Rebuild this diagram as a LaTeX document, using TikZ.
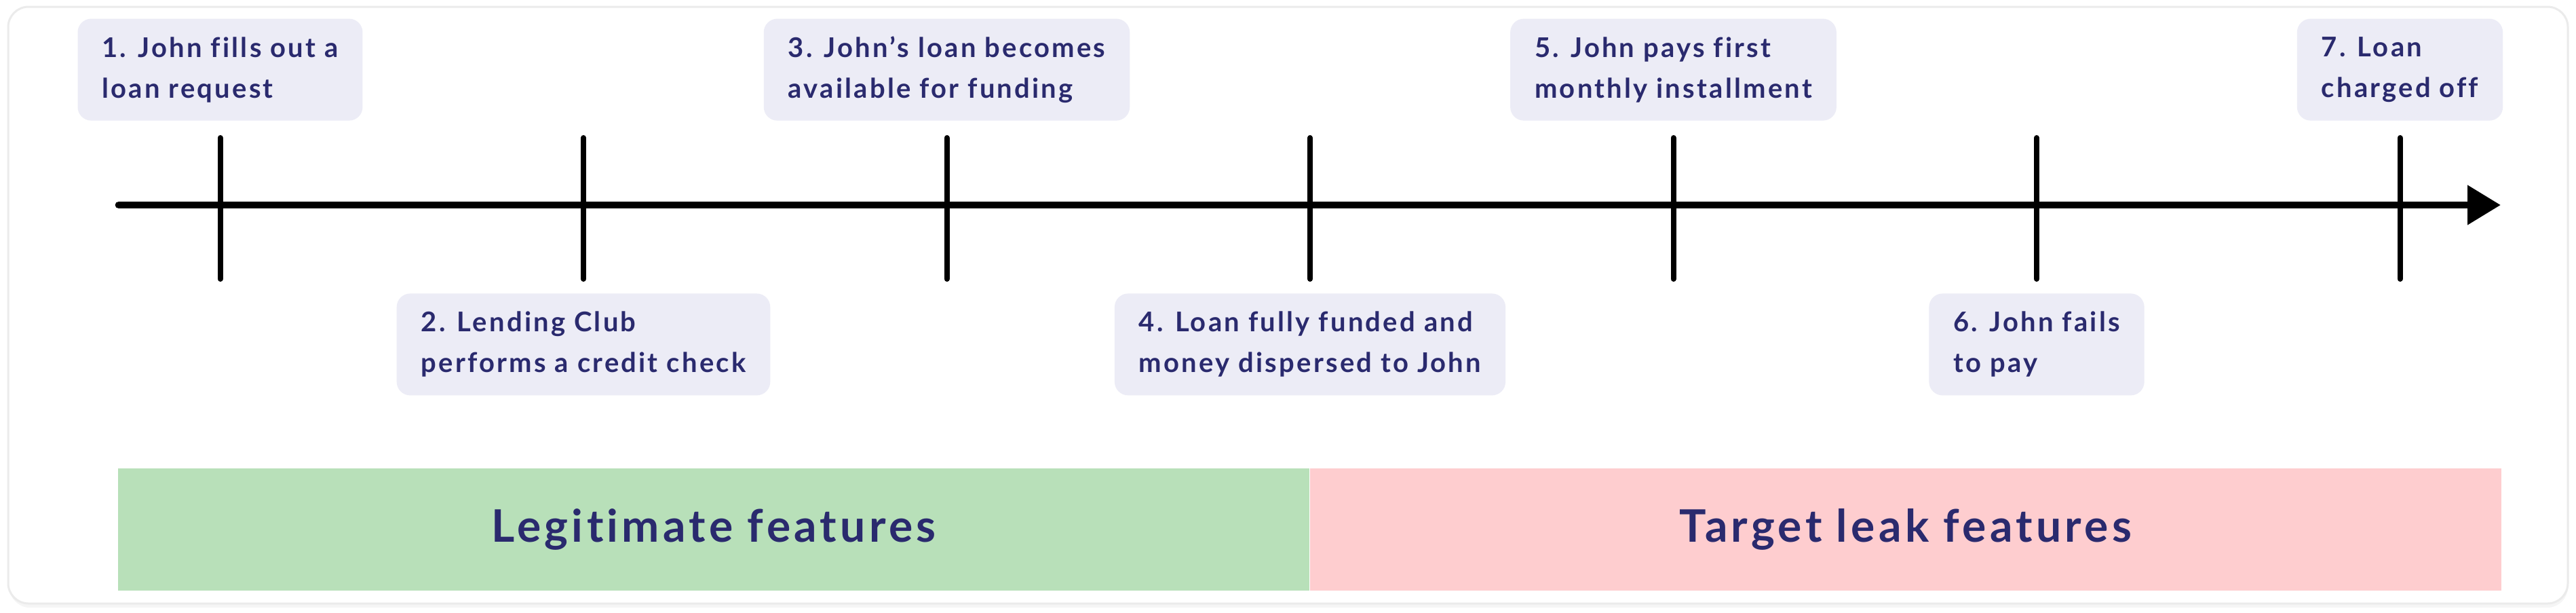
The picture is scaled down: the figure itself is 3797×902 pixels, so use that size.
\documentclass[tikz,border=0pt]{standalone}
\usepackage{fontspec}
\setmainfont{Lato}[LetterSpace=8, Ligatures=CommonOff]
\usetikzlibrary{arrows.meta,positioning}
\definecolor{navy}{HTML}{2A2A6E}
\definecolor{eventfill}{HTML}{ECECF6}
\definecolor{legitgreen}{HTML}{B8E0B9}
\definecolor{leakpink}{HTML}{FECDCF}
\definecolor{cardline}{HTML}{EBEBEB}
\begin{document}
\begin{tikzpicture}
        [x=0.5pt, y=0.5pt,
         event/.style={rectangle, rounded corners=10pt, fill=eventfill, text=navy, align=left,
                       font=\bfseries\fontsize{20}{30}\selectfont, minimum height=75pt, inner xsep=18pt},
         band/.style={rectangle, minimum width=878pt, minimum height=90pt, inner sep=0pt, text=navy,
                      font=\bfseries\fontsize{33}{38}\selectfont},
         tick/.style={line width=4pt, line cap=round},
         axis/.style={line width=5.35pt, line cap=round, -{Triangle[length=24.5pt, width=28pt]}}]
        \useasboundingbox (0,0) rectangle (3797,-902);
        \fill [black!4, rounded corners=15pt] (14,-16) rectangle (3785,-895);
        \draw [cardline, line width=1.5pt, fill=white, rounded corners=15pt] (12,-10) rectangle (3785,-889);
        % timeline
        \coordinate (start) at (175,-302);
        \coordinate (end) at (3686,-302);
        \draw [axis] (start) -- (end);
        \foreach \i in {1,...,7} {
            \coordinate (top\i) at ({324.5+535.5*(\i-1)},-203);
            \coordinate (bot\i) at ({324.5+535.5*(\i-1)},-411);
            \draw [tick] (top\i) -- (bot\i);
        }
        % events
        \node (fill) [event, above=12.5pt of top1] {1. John fills out a\\loan request};
        \node (check) [event, below=10.5pt of bot2] {2. Lending Club\\performs a credit check};
        \node (listed) [event, above=12.5pt of top3] {3. John’s loan becomes\\available for funding};
        \node (funded) [event, below=10.5pt of bot4] {4. Loan fully funded and\\money dispersed to John};
        \node (firstpay) [event, above=12.5pt of top5] {5. John pays first\\monthly installment};
        \node (default) [event, below=10.5pt of bot6] {6. John fails\\to pay};
        \node (chargeoff) [event, above=12.5pt of top7] {7. Loan\\charged off};
        % feature bands
        \node (legit) [band, fill=legitgreen] at (1052,-780) {Legitimate features};
        \node (leak) [band, fill=leakpink, right=0pt of legit] {Target leak features};
    \end{tikzpicture}
\end{document}
